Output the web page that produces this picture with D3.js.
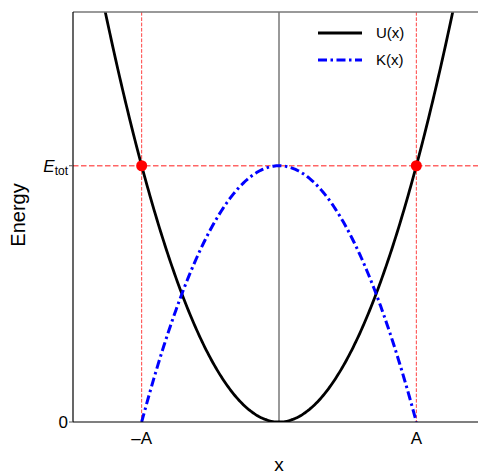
<!DOCTYPE html>
<html>
<head>
<meta charset="utf-8">
<script src="https://cdn.jsdelivr.net/npm/d3@7"></script>
<style>
  body { margin: 0; background: #fff; }
  text { font-family: "Liberation Sans", Arial, sans-serif; }
</style>
</head>
<body>
<svg id="chart" width="478" height="474"></svg>
<script>
// amplitude and total energy (U = x^2, K = E - x^2)
const amp = 1, eTot = 1;
const xs = d3.range(-1.5, 1.5001, 0.01);
const uVals = xs.map(x => x * x);
const kXs = d3.range(-1, 1.0001, 0.01);
const kVals = kXs.map(x => eTot - x * x);
const xTickVals = [-amp, amp], xTickLabels = ["\u2013A", "A"];
const yTickVals = [0, eTot];
const legendNames = ["U(x)", "K(x)"];

const svg = d3.select("#chart");
const pLeft = 73, pTop = 12, pBottom = 422, pRight = 485;
const dashDot = "9,3.5,2.5,3.5";

const x = d3.scaleLinear().domain([-1.5, 1.5]).range([pLeft, pRight]);
const y = d3.scaleLinear().domain([0, 1.6]).range([pBottom, pTop]);

svg.append("defs").append("clipPath").attr("id", "clip")
  .append("rect").attr("x", pLeft).attr("y", pTop).attr("width", pRight - pLeft).attr("height", pBottom - pTop);

const g = svg.append("g").attr("clip-path", "url(#clip)");

// x = 0 line
g.append("line")
  .attr("x1", x(0)).attr("x2", x(0)).attr("y1", pTop).attr("y2", pBottom)
  .attr("stroke", "#555").attr("stroke-width", 1.2);

// turning point guides
g.selectAll("line.vguide").data([-amp, amp]).join("line")
  .attr("class", "vguide")
  .attr("x1", d => x(d)).attr("x2", d => x(d)).attr("y1", pTop).attr("y2", pBottom)
  .attr("stroke", "red").attr("stroke-opacity", 0.75)
  .attr("stroke-width", 1).attr("stroke-dasharray", "3.7,1.6");

g.append("line")
  .attr("x1", pLeft).attr("x2", pRight).attr("y1", y(eTot)).attr("y2", y(eTot))
  .attr("stroke", "red").attr("stroke-opacity", 0.6)
  .attr("stroke-width", 1.5).attr("stroke-dasharray", "5.5,2.5");

const line = d3.line().x(d => x(d[0])).y(d => y(d[1]));

g.append("path")
  .attr("d", line(xs.map((v, i) => [v, uVals[i]])))
  .attr("fill", "none").attr("stroke", "black").attr("stroke-width", 2.8);

g.append("path")
  .attr("d", line(kXs.map((v, i) => [v, kVals[i]])))
  .attr("fill", "none").attr("stroke", "blue").attr("stroke-width", 3)
  .attr("stroke-dasharray", dashDot);

g.selectAll("circle").data([-amp, amp]).join("circle")
  .attr("cx", d => x(d)).attr("cy", y(eTot)).attr("r", 5.5).attr("fill", "red");

// spines
svg.append("line").attr("x1", pLeft).attr("x2", pRight).attr("y1", pTop).attr("y2", pTop)
  .attr("stroke", "#777").attr("stroke-width", 1.5);
svg.append("line").attr("x1", pLeft).attr("x2", pLeft).attr("y1", pTop).attr("y2", pBottom)
  .attr("stroke", "black").attr("stroke-width", 1.2);
svg.append("line").attr("x1", pLeft).attr("x2", pRight).attr("y1", pBottom).attr("y2", pBottom)
  .attr("stroke", "black").attr("stroke-width", 1.2);

// x ticks
svg.selectAll("text.xt").data(xTickVals).join("text")
  .attr("class", "xt")
  .attr("x", d => x(d)).attr("y", 444)
  .attr("text-anchor", "middle").attr("font-size", 17)
  .text((d, i) => xTickLabels[i]);

// y ticks
svg.selectAll("line.yt").data(yTickVals).join("line")
  .attr("class", "yt")
  .attr("x1", pLeft - 4).attr("x2", pLeft).attr("y1", d => y(d)).attr("y2", d => y(d))
  .attr("stroke", "#555").attr("stroke-width", 1);

svg.append("text").attr("x", 68).attr("y", y(0) + 6)
  .attr("text-anchor", "end").attr("font-size", 17).text("0");

const et = svg.append("text").attr("x", 68).attr("y", y(eTot) + 6)
  .attr("text-anchor", "end").attr("font-size", 17);
et.append("tspan").attr("font-style", "italic").text("E");
et.append("tspan").attr("font-size", 12).attr("dy", 3).text("tot");

// axis labels
svg.append("text").attr("x", x(0)).attr("y", 471)
  .attr("text-anchor", "middle").attr("font-size", 19).text("x");
svg.append("text").attr("transform", "translate(25,215) rotate(-90)")
  .attr("text-anchor", "middle").attr("font-size", 20).text("Energy");

// legend
const leg = svg.append("g");
const legStyles = [{ dash: null }, { dash: dashDot, color: "blue" }];
legendNames.forEach((name, i) => {
  const ly = 33 + i * 27;
  leg.append("line").attr("x1", 318).attr("x2", 362).attr("y1", ly).attr("y2", ly)
    .attr("stroke", legStyles[i].color || "black").attr("stroke-width", 3)
    .attr("stroke-dasharray", legStyles[i].dash);
  leg.append("text").attr("x", 376).attr("y", ly + 5).attr("font-size", 15).text(name);
});
</script>
</body>
</html>
